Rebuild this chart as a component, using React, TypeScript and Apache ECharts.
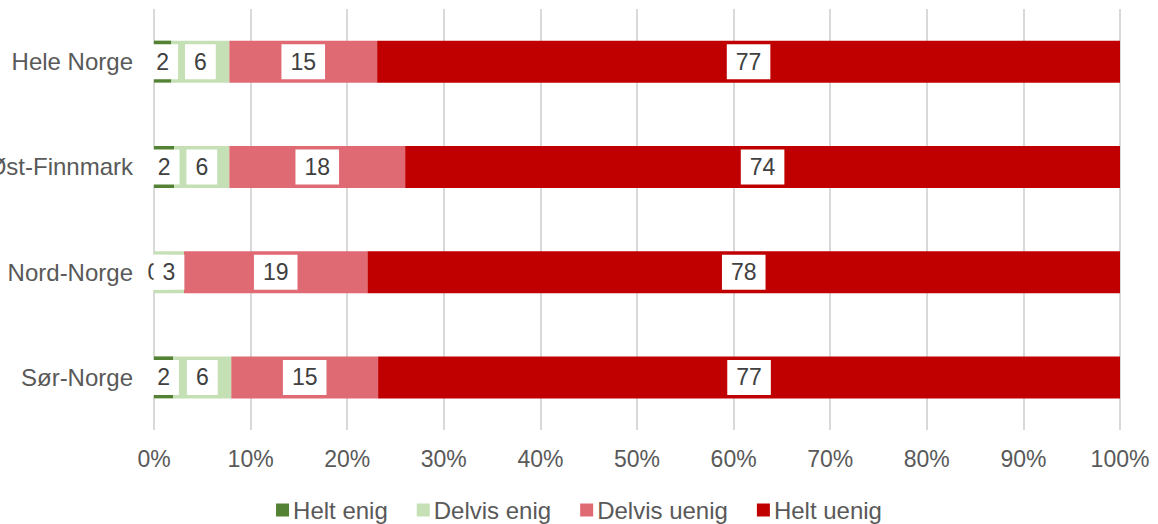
import React, { useEffect, useRef } from "react";
import * as echarts from "echarts";

const categories = ["Hele Norge", "Øst-Finnmark", "Nord-Norge", "Sør-Norge"];
const seriesNames = ["Helt enig", "Delvis enig", "Delvis uenig", "Helt uenig"];
const heltEnig = [1.8, 2.1, 0, 2.0];
const delvisEnig = [6.0, 5.7, 3.1, 6.0];
const delvisUenig = [15.3, 18.2, 19.0, 15.2];
const heltUenig = [76.9, 74.0, 77.9, 76.8];
const seriesColors = ["#548235", "#C5E0B4", "#E06A74", "#C00000"];

const FONT = "Liberation Sans, Arial, sans-serif";

export default function App() {
  const ref = useRef<HTMLDivElement>(null);
  useEffect(() => {
    if (!ref.current) return;
    const chart = echarts.init(ref.current, undefined, { renderer: "svg" });
    const values = [heltEnig, delvisEnig, delvisUenig, heltUenig];
    chart.setOption({
      animation: false,
      backgroundColor: "#ffffff",
      grid: {
        left: 154,
        right: 38,
        top: 9,
        height: 421,
        containLabel: false,
        outerBoundsMode: "none",
      },
      legend: {
        top: 493,
        left: "center",
        itemWidth: 13,
        itemHeight: 13,
        itemGap: 29,
        icon: "rect",
        textStyle: { fontSize: 24, color: "#595959", fontFamily: FONT, lineHeight: 24, padding: [0, 0, 0, -1] },
        data: seriesNames,
      },
      xAxis: {
        type: "value",
        min: 0,
        max: 100,
        interval: 10,
        axisLine: { show: false },
        axisTick: { show: false },
        splitLine: { show: true, lineStyle: { color: "#D9D9D9", width: 2 } },
        axisLabel: {
          formatter: "{value}%",
          fontSize: 23,
          color: "#595959",
          fontFamily: FONT,
          margin: 17,
        },
      },
      yAxis: {
        type: "category",
        data: categories,
        inverse: true,
        axisLine: { show: false },
        axisTick: { show: false },
        splitLine: { show: false },
        axisLabel: { fontSize: 24, color: "#595959", fontFamily: FONT, margin: 21 },
      },
      series: seriesNames.map((name, i) => ({
        name,
        type: "bar",
        stack: "total",
        barWidth: 42,
        itemStyle: { color: seriesColors[i] },
        label: {
          show: true,
          position: "inside",
          formatter: (p: any) => String(Math.round(p.value)),
          backgroundColor: "#ffffff",
          padding: [6, 9],
          color: "#404040",
          fontSize: 23,
          lineHeight: 23,
          fontFamily: FONT,
        },
        data: values[i],
      })),
    });
    return () => chart.dispose();
  }, []);
  return (
    <div
      ref={ref}
      style={{ position: "absolute", left: 0, top: 0, width: 1158, height: 524 }}
    />
  );
}
